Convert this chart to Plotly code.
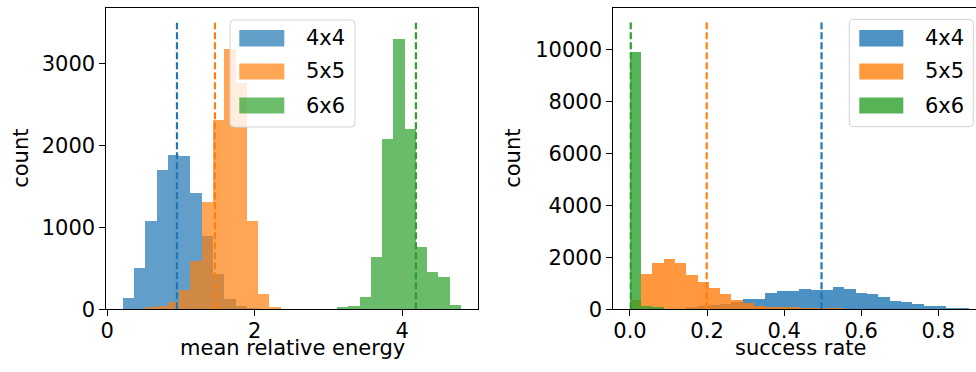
import plotly.graph_objects as go

# ---------------- data ----------------
series_names = ["4x4", "5x5", "6x6"]
colors = ["#1f77b4", "#ff7f0e", "#2ca02c"]

# left panel: mean relative energy histogram (30 shared bins)
energy_bin_start = 0.217
energy_bin_width = 0.1528
energy_counts_4x4 = [134, 500, 1080, 1699, 1885, 1870, 1422, 886, 430, 126,
                     33, 6, 0, 0, 0, 0, 0, 0, 0, 0,
                     0, 0, 0, 0, 0, 0, 0, 0, 0, 0]
energy_counts_5x5 = [0, 0, 20, 40, 85, 235, 590, 1305, 2308, 3170,
                     2756, 1069, 187, 25, 0, 0, 0, 0, 0, 0,
                     0, 0, 0, 0, 0, 0, 0, 0, 0, 0]
energy_counts_6x6 = [0, 0, 0, 0, 0, 0, 0, 0, 0, 0,
                     0, 0, 0, 0, 0, 0, 0, 0, 0, 20,
                     40, 142, 634, 2077, 3293, 2199, 756, 446, 385, 49]
energy_means = [0.945, 1.46, 4.185]
energy_line_top = 3500

# right panel: success rate histogram (30 shared bins)
success_bin_start = 0.0
success_bin_width = 0.02933
success_counts_4x4 = [0, 0, 0, 0, 0, 50, 100, 150, 210, 280,
                      385, 385, 615, 704, 704, 781, 742, 742, 832, 768,
                      630, 570, 446, 319, 255, 192, 100, 100, 38, 38]
success_counts_5x5 = [350, 1359, 1769, 1910, 1769, 1319, 1050, 808, 565, 340,
                      225, 110, 80, 60, 45, 30, 20, 12, 5, 0,
                      0, 0, 0, 0, 0, 0, 0, 0, 0, 0]
success_counts_6x6 = [9885, 110, 40, 0, 0, 0, 0, 0, 0, 0,
                      0, 0, 0, 0, 0, 0, 0, 0, 0, 0,
                      0, 0, 0, 0, 0, 0, 0, 0, 0, 0]
success_means = [0.497, 0.199, 0.002]
success_line_top = 11030

left_xticks = [0, 2, 4]
left_yticks = [0, 1000, 2000, 3000]
right_xticks = [0.0, 0.2, 0.4, 0.6, 0.8]
right_xticklabels = ["0.0", "0.2", "0.4", "0.6", "0.8"]
right_yticks = [0, 2000, 4000, 6000, 8000, 10000]

# ---------------- figure ----------------
W, H = 976, 372
FONT = "DejaVu Sans"
FS = 21

fig = go.Figure()


def centers(start, width, n):
    return [start + width * (i + 0.5) for i in range(n)]


def add_hist(counts_list, start, width, opacity, xa, ya):
    for name, col, counts in zip(series_names, colors, counts_list):
        fig.add_trace(go.Bar(
            x=centers(start, width, len(counts)), y=counts, width=width,
            marker=dict(color=col, line=dict(width=0)), opacity=opacity,
            name=name, showlegend=False, xaxis=xa, yaxis=ya))


def add_means(means, top, xa, ya):
    for m, col in zip(means, colors):
        fig.add_trace(go.Scatter(
            x=[m, m], y=[0, top], mode="lines",
            line=dict(color=col, width=2.2, dash="7px,3px"),
            showlegend=False, hoverinfo="skip", xaxis=xa, yaxis=ya))


add_hist([energy_counts_4x4, energy_counts_5x5, energy_counts_6x6],
         energy_bin_start, energy_bin_width, 0.7, "x", "y")
add_means(energy_means, energy_line_top, "x", "y")
add_hist([success_counts_4x4, success_counts_5x5, success_counts_6x6],
         success_bin_start, success_bin_width, 0.8, "x2", "y2")
add_means(success_means, success_line_top, "x2", "y2")

ydom = [1 - 309.3 / H, 1 - 8.3 / H]
axis_common = dict(showline=True, linecolor="black", linewidth=1.1,
                   ticks="outside", ticklen=6, tickwidth=1.1, tickcolor="black",
                   showgrid=False, zeroline=False, automargin=False,
                   tickformat="d",
                   tickfont=dict(family=FONT, size=FS, color="black"))

fig.update_layout(
    width=W, height=H, autosize=False,
    margin=dict(l=0, r=0, t=0, b=0, pad=0),
    paper_bgcolor="white", plot_bgcolor="white",
    barmode="overlay", bargap=0,
    showlegend=False,
    font=dict(family=FONT, size=FS, color="black"),
    xaxis=dict(domain=[106.4 / W, 478.2 / W], range=[-0.012, 5.03],
               tickvals=left_xticks, mirror=True, anchor="y",
               ticklabelstandoff=-4, **axis_common),
    yaxis=dict(domain=ydom, range=[0, 3675], tickvals=left_yticks,
               mirror=True, anchor="x", **axis_common),
    xaxis2=dict(domain=[613.3 / W, 1.0], range=[-0.0433, 0.8978],
                tickvals=right_xticks, ticktext=right_xticklabels,
                mirror=True, anchor="y2", ticklabelstandoff=-4, **axis_common),
    yaxis2=dict(domain=ydom, range=[0, 11580], tickvals=right_yticks,
                mirror=False, anchor="x2", **axis_common),
)


def px(x):
    return x / W


def py(y):
    return 1 - y / H


def rounded_rect(x0, y0, x1, y1, r=4):
    # pixel coordinates -> paper path with rounded corners
    rx, ry = r / W, r / H
    X0, X1 = px(x0), px(x1)
    Y0, Y1 = py(y1), py(y0)  # bottom, top in paper
    return (f"M {X0+rx},{Y1} L {X1-rx},{Y1} Q {X1},{Y1} {X1},{Y1-ry} "
            f"L {X1},{Y0+ry} Q {X1},{Y0} {X1-rx},{Y0} L {X0+rx},{Y0} "
            f"Q {X0},{Y0} {X0},{Y0+ry} L {X0},{Y1-ry} Q {X0},{Y1} {X0+rx},{Y1} Z")


def add_legend(box, patch_x, text_x, rows, opacity):
    fig.add_shape(type="path", path=rounded_rect(*box), xref="paper", yref="paper",
                  line=dict(color="#d3d3d3", width=1),
                  fillcolor="rgba(255,255,255,0.8)", layer="above")
    for (r0, r1), col, name in zip(rows, colors, series_names):
        fig.add_shape(type="rect", xref="paper", yref="paper",
                      x0=px(patch_x[0]), x1=px(patch_x[1]), y0=py(r1), y1=py(r0),
                      fillcolor=col, opacity=opacity, line=dict(width=0), layer="above")
        fig.add_annotation(x=px(text_x), y=py((r0 + r1) / 2), xref="paper", yref="paper",
                           text=name, showarrow=False, xanchor="left", yanchor="middle",
                           font=dict(family=FONT, size=FS, color="black"))


legend_rows = [(30, 46.5), (63.5, 79.5), (97.5, 113.5)]
add_legend((230, 20, 355, 127), (239.3, 284.3), 304, legend_rows, 0.7)
add_legend((849.3, 19.3, 973.3, 126.7), (859.3, 903.3), 923.3, legend_rows, 0.8)

# axis titles
for x, y, t, ang in [(292.5, 348, "mean relative energy", 0),
                     (800, 348, "success rate", 0),
                     (21, 158.8, "count", -90),
                     (513, 158.8, "count", -90)]:
    fig.add_annotation(x=px(x), y=py(y), xref="paper", yref="paper", text=t,
                       showarrow=False, xanchor="center", yanchor="middle",
                       textangle=ang, font=dict(family=FONT, size=FS, color="black"))

fig.write_html("out.html", config={"displayModeBar": False},
               post_script="document.body.style.margin='0';document.body.style.overflow='hidden';")
